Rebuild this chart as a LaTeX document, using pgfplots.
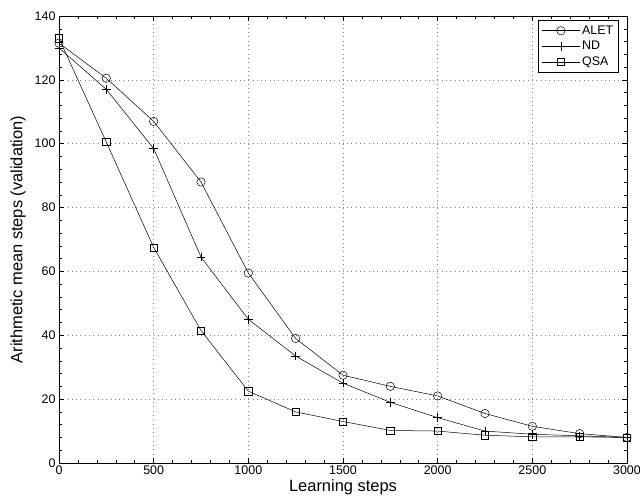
\documentclass[border=0pt]{standalone}
\usepackage{fontspec}
\setmainfont{Liberation Sans}
\usepackage{pgfplots}
\pgfplotsset{compat=1.18}
\begin{document}
\begin{tikzpicture}
\begin{axis}[
    scale only axis,
    width=568bp, height=447bp,
    xmin=0, xmax=3000, ymin=0, ymax=140,
    xtick={0,500,...,3000}, ytick={0,20,...,140},
    minor x tick num=4, minor y tick num=4,
    major tick length=5bp, minor tick length=3bp,
    tick style={black, line width=0.5pt},
    axis line style={line width=0.6pt},
    grid=major,
    major grid style={gray, line width=0.7pt, dash pattern=on 0.8bp off 3.5bp},
    /pgf/number format/assume math mode=true,
    /pgf/number format/set thousands separator={},
    ticklabel style={font=\fontsize{12.5}{14}\selectfont},
    xticklabel style={yshift=1bp},
    xlabel={Learning steps}, ylabel={Arithmetic mean steps (validation)},
    label style={font=\fontsize{16.5}{18}\selectfont},
    xlabel style={yshift=2bp}, ylabel style={yshift=2bp},
    every axis plot/.append style={black, line width=0.5pt},
    legend style={at={(0.985,0.99)}, anchor=north east, draw=black,
        font=\fontsize{12.5}{14}\selectfont, row sep=1.5bp,
        inner sep=3bp, line width=0.5pt},
    legend cell align=left,
    legend image code/.code={
        \draw[mark repeat=2, mark phase=2] plot coordinates {(0bp,0bp) (19bp,0bp) (38bp,0bp)};
    },
]
\addplot[mark=o, mark size=4.2bp] coordinates {
    (0,131.5) (250,120.5) (500,107) (750,88) (1000,59.5) (1250,39)
    (1500,27.5) (1750,24) (2000,21) (2250,15.5) (2500,11.5) (2750,9.2) (3000,8)
};
\addlegendentry{ALET}
\addplot[mark=+, mark size=4.3bp] coordinates {
    (0,130) (250,117) (500,98.5) (750,64.5) (1000,45) (1250,33.5)
    (1500,25) (1750,19) (2000,14.2) (2250,10) (2500,9) (2750,8.5) (3000,8)
};
\addlegendentry{ND}
\addplot[mark=square, mark size=3.6bp] coordinates {
    (0,133) (250,100.5) (500,67.5) (750,41.5) (1000,22.5) (1250,16)
    (1500,13) (1750,10.2) (2000,10) (2250,8.7) (2500,8.2) (2750,8.2) (3000,8)
};
\addlegendentry{QSA}
\end{axis}
\pgfresetboundingbox
\path ([xshift=-59bp,yshift=-39bp]current axis.south west) rectangle ([xshift=13bp,yshift=16bp]current axis.north east);
\end{tikzpicture}
\end{document}
